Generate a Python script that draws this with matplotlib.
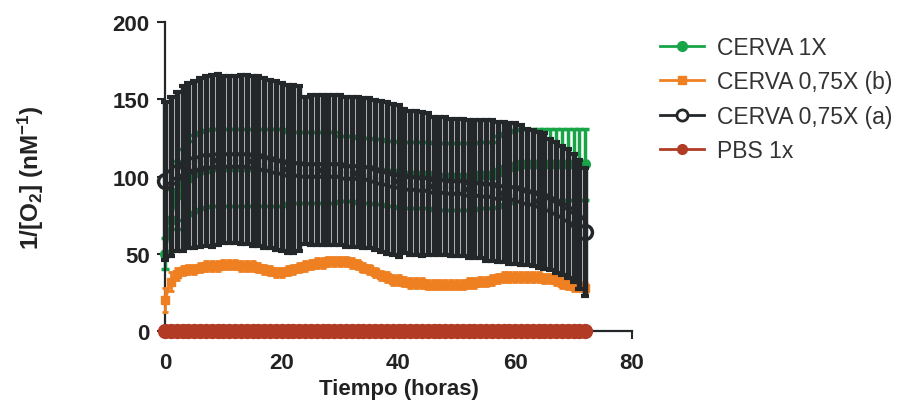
import numpy as np
import matplotlib
matplotlib.use('Agg')
import matplotlib.pyplot as plt
from matplotlib.lines import Line2D

plt.rcParams['font.family'] = ['Liberation Sans', 'DejaVu Sans']
plt.rcParams['mathtext.fontset'] = 'custom'
plt.rcParams['mathtext.rm'] = 'Liberation Sans:bold'
plt.rcParams['mathtext.bf'] = 'Liberation Sans:bold'
plt.rcParams['mathtext.default'] = 'bf'

# time points (hours)
horas = np.arange(0, 73)

# CERVA 1X (green)
cerva1_mean = [50, 72, 88, 95, 99, 102, 104, 105, 106, 106,
               106, 106, 106, 106, 106, 106, 106, 106, 106, 106,
               106, 106, 106, 106, 106, 106, 106, 106, 106, 106,
               105, 105, 105, 104, 104, 104, 103, 103, 102, 102,
               101, 101, 101, 101, 101, 101, 100, 100, 100, 100,
               100, 100, 100, 100, 101, 101, 101, 103, 105, 106,
               107, 108, 108, 108, 108, 108, 108, 108, 108, 108,
               108, 108, 108]
cerva1_sd = [10, 20, 22, 23, 24, 25, 25, 25, 25, 25,
             25, 25, 25, 25, 25, 25, 25, 25, 25, 25,
             25, 23, 23, 23, 23, 23, 23, 23, 23, 23,
             21, 21, 21, 21, 21, 21, 21, 21, 21, 21,
             21.5, 21.5, 21.5, 21.5, 21.5, 21.5, 21.5, 21.5, 21.5, 21.5,
             21.5, 21.5, 21.5, 21.5, 21.5, 21.5, 21.5, 23, 23, 23,
             23, 23, 23, 23, 23, 23, 23, 23, 23, 23,
             23, 23, 23]

# CERVA 0,75X (b) (orange)
cerva075b_mean = [20, 32, 37, 39, 40, 40, 41, 42, 42, 42,
                  43, 43, 43, 42, 42, 42, 41, 40, 39, 38,
                  38, 39, 40, 41, 42, 43, 44, 44, 45, 45,
                  45, 45, 44, 43, 41, 40, 38, 36, 35, 33,
                  33, 32, 31, 31, 31, 30, 30, 30, 30, 30,
                  30, 30, 31, 31, 32, 32, 33, 34, 35, 35,
                  35, 35, 35, 35, 35, 34, 34, 33, 31, 30,
                  29, 29, 28]
cerva075b_sd = [8, 6, 4, 3, 3, 3, 3, 3, 3, 3,
                3, 3, 3, 3, 3, 3, 3, 3, 3, 3,
                3, 3, 3, 3, 3, 3, 3, 3, 3, 3,
                3, 3, 3, 3, 3, 3, 3, 3, 3, 3,
                3, 3, 3, 3, 3, 3, 3, 3, 3, 3,
                3, 3, 3, 3, 3, 3, 3, 3, 3, 3,
                3, 3, 3, 3, 3, 3, 3, 3, 3, 3,
                3, 3, 3]

# CERVA 0,75X (a) (black)
cerva075a_mean = [97, 100, 103, 105, 107, 108, 109, 110, 110, 111,
                  111, 111, 111, 111, 111, 110, 110, 109, 108, 107,
                  106, 105, 105, 105, 104, 104, 104, 104, 104, 104,
                  104, 103, 103, 103, 102, 102, 101, 100, 99, 98,
                  97, 97, 96, 96, 95, 95, 94, 94, 94, 93,
                  93, 93, 92, 92, 92, 91, 91, 90, 90, 89,
                  89, 88, 87, 86, 85, 84, 82, 80, 78, 76,
                  73, 69, 64]
cerva075a_sd = [51, 51.5, 51.5, 53.5, 53.5, 54, 54.5, 55, 55.5, 55.5,
                54, 54, 54, 55, 55, 55, 55, 55, 54.5, 54.5,
                54.5, 54.5, 54.5, 53.5, 47.5, 48.5, 48.5, 48.5, 48.5, 48.5,
                48.5, 48.5, 48.5, 48.5, 48.5, 48.5, 48.5, 49, 49, 49,
                49, 46.5, 46.5, 46.5, 46.5, 46, 44.5, 44.5, 44.5, 44.5,
                44.5, 44.5, 44.5, 44.5, 44.5, 45.5, 45.5, 45.5, 45.5, 45.5,
                45.5, 45.5, 44, 44, 44, 44, 42.5, 42.5, 41.5, 41.5,
                41.5, 41.5, 41.5]

# PBS 1x (red)
pbs_mean = [0, 0, 0, 0, 0, 0, 0, 0, 0, 0,
            0, 0, 0, 0, 0, 0, 0, 0, 0, 0,
            0, 0, 0, 0, 0, 0, 0, 0, 0, 0,
            0, 0, 0, 0, 0, 0, 0, 0, 0, 0,
            0, 0, 0, 0, 0, 0, 0, 0, 0, 0,
            0, 0, 0, 0, 0, 0, 0, 0, 0, 0,
            0, 0, 0, 0, 0, 0, 0, 0, 0, 0,
            0, 0, 0]

labels = ['CERVA 1X', 'CERVA 0,75X (b)', 'CERVA 0,75X (a)', 'PBS 1x']
verde = '#17a548'
naranja = '#ef8022'
negro = '#24272a'
rojo = '#b13b25'

fig = plt.figure(figsize=(9.16, 4.06), dpi=100)
ax = fig.add_axes([165 / 916, 1 - 332 / 406, (632 - 165) / 916, (332 - 23) / 406])

# green series
ax.errorbar(horas, cerva1_mean, yerr=cerva1_sd, fmt='o-', color=verde, ms=7, lw=2,
            elinewidth=2.5, capsize=3, capthick=2.5, clip_on=False, zorder=2)

# orange series
ax.errorbar(horas, cerva075b_mean, yerr=cerva075b_sd, fmt='s-', color=naranja, ms=6, lw=2,
            elinewidth=2, capsize=2.5, capthick=2, clip_on=False, zorder=3)

# black series: open markers under thick error bars
ax.plot(horas, cerva075a_mean, marker='o', mfc='white', mec=negro, mew=2.5, ms=10,
        color=negro, lw=5, clip_on=False, zorder=4)
ax.errorbar(horas, cerva075a_mean, yerr=cerva075a_sd, fmt='none', ecolor=negro,
            elinewidth=3.9, capsize=3.2, capthick=3, clip_on=False, zorder=5)

# PBS
ax.plot(horas, pbs_mean, 'o-', color=rojo, ms=10, lw=2, clip_on=False, zorder=6)

ax.set_xlim(0, 80)
ax.set_ylim(0, 200)
ax.set_xticks([0, 20, 40, 60, 80])
ax.set_yticks([0, 50, 100, 150, 200])
for s in ['top', 'right']:
    ax.spines[s].set_visible(False)
for s in ['left', 'bottom']:
    ax.spines[s].set_linewidth(1.6)
    ax.spines[s].set_color(negro)
ax.tick_params(direction='out', length=6, width=1.5, color=negro, labelsize=16,
               labelcolor='#222222', pad=5)
for lab in ax.get_xticklabels() + ax.get_yticklabels():
    lab.set_fontweight('bold')
ax.tick_params(axis='x', pad=9)

ax.set_xlabel('Tiempo (horas)', fontsize=16, fontweight='bold', color='#222222', labelpad=4)
ax.set_ylabel(r'1/[O$_2$] (nM$^{-1}$)', fontsize=17.5, fontweight='bold', color='#222222',
              labelpad=48)

handles = [
    Line2D([], [], color=verde, marker='o', ms=7, lw=2),
    Line2D([], [], color=naranja, marker='s', ms=6, lw=2),
    Line2D([], [], color=negro, marker='o', mfc='white', mew=2, ms=8, lw=2),
    Line2D([], [], color=rojo, marker='o', ms=7, lw=2),
]
fig.legend(handles, labels, loc='upper left', bbox_to_anchor=(0.698, 0.96), frameon=False,
           fontsize=16.5, labelcolor='#333333', handlelength=1.9, handletextpad=0.6,
           labelspacing=0.5)

fig.savefig('out.png', dpi=100)
